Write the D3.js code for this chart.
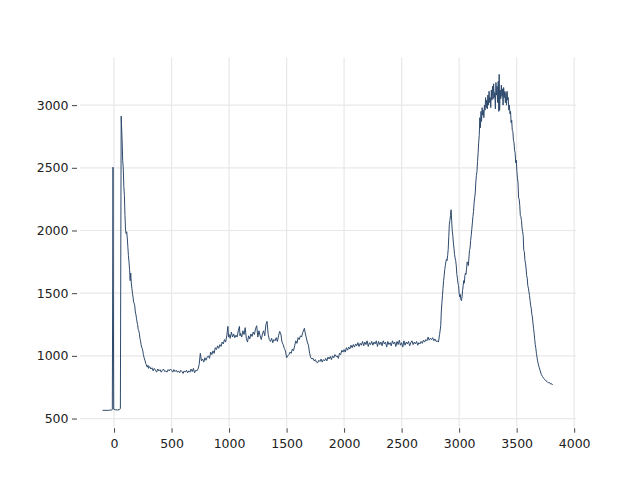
<!DOCTYPE html>
<html>
<head>
<meta charset="utf-8">
<script src="https://cdn.jsdelivr.net/npm/d3@7"></script>
<style>
  html, body { margin: 0; padding: 0; background: #fff; }
  svg { display: block; }
  text { font-family: "DejaVu Sans", sans-serif; }
</style>
</head>
<body>
<svg id="chart" width="640" height="480"></svg>
<script>
// ---- data ----
const xValues = [
  -100, -80, -60, -40, -20, -15, -9, -3, 10, 30, 50, 55, 62,
  70, 75, 80, 85, 90, 95, 100, 105, 110, 115, 120, 125, 130, 135, 140, 145, 150,
  155, 160, 165, 170, 175, 180, 185, 190, 195, 200, 205, 210, 215, 220, 225, 230,
  235, 240, 245, 250, 255, 260, 265, 270, 275, 280, 285, 290, 295, 300,
  310, 320, 330, 340, 350, 360, 370, 380, 390, 400, 410, 420, 430, 440, 450, 460,
  470, 480, 490, 500, 510, 520, 530, 540, 550, 560, 570, 580, 590, 600, 610, 620,
  630, 640, 650, 660, 670, 680, 690, 700, 710, 720, 730, 740, 750, 760, 770, 780,
  790, 800, 810, 820, 830, 840, 850, 860, 870, 880, 890, 900, 910, 920, 930, 940,
  950, 960, 970, 980, 990, 995, 1000, 1010, 1020, 1030, 1040, 1050, 1060, 1070,
  1080, 1090, 1095, 1100, 1110, 1120, 1130, 1140, 1150, 1160, 1170, 1180, 1190,
  1200, 1210, 1220, 1230, 1240, 1250, 1260, 1270, 1280, 1290, 1300, 1310, 1320,
  1330, 1340, 1350, 1360, 1370, 1380, 1390, 1400, 1410, 1420, 1430, 1440, 1450,
  1460, 1470, 1480, 1490, 1500, 1510, 1520, 1530, 1540, 1550, 1560, 1570, 1580,
  1590, 1600, 1610, 1620, 1630, 1640, 1650, 1655, 1660, 1670, 1680, 1690, 1700,
  1710, 1720, 1730, 1740, 1750, 1760, 1770, 1780, 1790, 1800, 1810, 1820, 1830,
  1840, 1850, 1860, 1870, 1880, 1890, 1900, 1910, 1920, 1930, 1940, 1950, 1960,
  1970, 1980, 1990, 2000, 2010, 2020, 2030, 2040, 2050, 2060, 2070, 2080, 2090,
  2100, 2110, 2120, 2130, 2140, 2150, 2160, 2170, 2180, 2190, 2200, 2210, 2220,
  2230, 2240, 2250, 2260, 2270, 2280, 2290, 2300, 2310, 2320, 2330, 2340, 2350,
  2360, 2370, 2380, 2390, 2400, 2410, 2420, 2430, 2440, 2450, 2460, 2470, 2480,
  2490, 2500, 2510, 2520, 2530, 2540, 2550, 2560, 2570, 2580, 2590, 2600, 2610,
  2620, 2630, 2640, 2650, 2660, 2670, 2680, 2690, 2700, 2710, 2720, 2730, 2740,
  2750, 2760, 2770, 2780, 2790, 2800, 2810, 2820, 2830, 2840, 2845, 2850, 2855,
  2860, 2865, 2870, 2875, 2880, 2885, 2890, 2895, 2900, 2905, 2910, 2915, 2920,
  2925, 2930, 2935, 2940, 2945, 2950, 2955, 2960, 2965, 2970, 2975, 2980, 2985,
  2990, 2995, 3000, 3005, 3010, 3015, 3020, 3025, 3030, 3035, 3040, 3045, 3050,
  3055, 3060, 3065, 3070, 3075, 3080, 3085, 3090, 3095, 3100, 3105, 3110, 3115,
  3120, 3125, 3130, 3135, 3140, 3145, 3150, 3155, 3160, 3165, 3170, 3175, 3180,
  3185, 3190, 3195, 3200, 3205, 3210, 3215, 3220, 3225, 3230, 3235, 3240, 3245,
  3250, 3255, 3260, 3265, 3270, 3275, 3280, 3285, 3290, 3295, 3300, 3305, 3310,
  3315, 3320, 3325, 3330, 3335, 3340, 3345, 3348, 3352, 3357, 3362, 3367, 3372,
  3377, 3382, 3387, 3392, 3397, 3402, 3407, 3412, 3417, 3422, 3427, 3432, 3437,
  3442, 3447, 3452, 3457, 3462, 3467, 3472, 3477, 3482, 3487, 3492, 3497, 3502,
  3507, 3512, 3517, 3522, 3527, 3532, 3537, 3542, 3547, 3552, 3557, 3562, 3567,
  3572, 3577, 3582, 3587, 3592, 3597, 3602, 3607, 3612, 3617, 3622, 3627, 3632,
  3637, 3642, 3647, 3652, 3657, 3662, 3667, 3672, 3677, 3682, 3687, 3692, 3697,
  3705, 3715, 3725, 3735, 3745, 3755, 3765, 3775, 3785, 3795, 3805, 3812
];
const yValues = [
  565, 566, 565, 567, 568, 572, 2505, 575, 570, 568, 572, 580, 2912,
  2720, 2560, 2500, 2350, 2280, 2120, 2000, 1975, 1990, 1940, 1870, 1800, 1750, 1690, 1600, 1660, 1580,
  1540, 1500, 1470, 1430, 1420, 1400, 1350, 1330, 1300, 1270, 1250, 1210, 1200, 1180, 1140, 1120,
  1090, 1070, 1060, 1040, 1010, 990, 975, 960, 940, 930, 915, 910, 925, 900,
  915, 895, 905, 880, 900, 885, 870, 895, 880, 890, 870, 885, 895, 875, 880, 870,
  890, 880, 895, 885, 870, 890, 875, 885, 870, 880, 865, 885, 875, 860, 880, 870,
  885, 865, 880, 870, 895, 875, 900, 865, 885, 880, 895, 930, 1020, 960, 975, 950,
  985, 965, 990, 1000, 980, 1030, 1010, 1040, 1020, 1065, 1050, 1080, 1060, 1090, 1075, 1110,
  1095, 1130, 1110, 1160, 1235, 1150, 1170, 1140, 1190, 1150, 1175, 1145, 1165, 1150,
  1200, 1235, 1160, 1180, 1150, 1200, 1170, 1225, 1140, 1110, 1160, 1135, 1175,
  1155, 1190, 1170, 1215, 1240, 1150, 1200, 1160, 1130, 1175, 1200, 1160, 1250,
  1275, 1170, 1130, 1115, 1140, 1105, 1130, 1120, 1145, 1115, 1160, 1195, 1175,
  1110, 1090, 1060, 1040, 985, 1000, 1010, 1030, 1020, 1055, 1040, 1080, 1120,
  1100, 1145, 1130, 1160, 1150, 1185, 1210, 1220, 1190, 1150, 1110, 1085, 1020,
  985, 975, 980, 960, 970, 950, 945, 965, 955, 975, 950, 970, 960,
  980, 960, 990, 975, 995, 970, 1000, 985, 1010, 995, 1000, 980, 1020,
  1010, 1045, 1030, 1050, 1030, 1065, 1045, 1070, 1055, 1085, 1065, 1090, 1070,
  1095, 1080, 1105, 1075, 1100, 1085, 1115, 1080, 1110, 1090, 1120, 1075, 1105,
  1090, 1115, 1085, 1110, 1095, 1120, 1075, 1115, 1090, 1110, 1080, 1120, 1095,
  1110, 1070, 1115, 1090, 1105, 1080, 1120, 1095, 1110, 1075, 1115, 1090, 1125,
  1085, 1105, 1070, 1120, 1085, 1110, 1095, 1115, 1080, 1105, 1120, 1090, 1110,
  1095, 1115, 1085, 1105, 1095, 1115, 1100, 1125, 1110, 1130, 1120, 1150, 1125,
  1140, 1130, 1145, 1120, 1135, 1115, 1120, 1110, 1170, 1240, 1350, 1420, 1480,
  1540, 1600, 1640, 1690, 1720, 1750, 1770, 1760, 1800, 1850, 1950, 2050, 2080,
  2120, 2165, 2080, 2000, 1960, 1900, 1860, 1810, 1780, 1760, 1720, 1650, 1620,
  1580, 1560, 1500, 1470, 1490, 1450, 1440, 1470, 1520, 1560, 1600, 1580, 1640,
  1660, 1650, 1700, 1750, 1740, 1720, 1780, 1840, 1860, 1920, 1960, 2010, 2060,
  2110, 2150, 2220, 2260, 2300, 2380, 2440, 2470, 2550, 2620, 2700, 2760, 2900,
  2820, 2950, 2870, 2980, 2920, 2960, 2900, 3000, 2960, 3060, 2980, 3040, 2970,
  3080, 3000, 3110, 3020, 3060, 2980, 3120, 3040, 3150, 3050, 3170, 3060, 3100,
  2970, 3180, 3080, 3150, 3020, 3190, 2950, 3245, 2960, 3120, 3050, 3160, 3070,
  3130, 3000, 3140, 3060, 3110, 3020, 3100, 3000, 3110, 3040, 3060, 2960, 3000,
  2930, 2950, 2860, 2880, 2800, 2790, 2720, 2700, 2640, 2620, 2540, 2560, 2470,
  2420, 2380, 2260, 2250, 2200, 2120, 2110, 2080, 2020, 1990, 1960, 1840, 1830,
  1760, 1740, 1700, 1640, 1620, 1560, 1540, 1510, 1480, 1440, 1400, 1380, 1330,
  1310, 1260, 1220, 1180, 1130, 1090, 1060, 1020, 990, 960, 940, 920, 905,
  880, 850, 835, 820, 812, 800, 795, 785, 788, 775, 778, 768
];
const xTicks = [0, 500, 1000, 1500, 2000, 2500, 3000, 3500, 4000];
const yTicks = [500, 1000, 1500, 2000, 2500, 3000];

// ---- layout ----
const plotLeft = 80, plotRight = 576, plotTop = 57.6, plotBottom = 427.2;

const svg = d3.select("#chart");
const data = xValues.map((xv, i) => [xv, yValues[i]]);

const xScale = d3.scaleLinear().domain([-296, 4016]).range([plotLeft, plotRight]);
const yScale = d3.scaleLinear().domain([431, 3379]).range([plotBottom, plotTop]);

// grid
const grid = svg.append("g");
grid.selectAll("line.vx").data(xTicks).join("line").attr("class", "vx")
  .attr("x1", d => xScale(d)).attr("x2", d => xScale(d))
  .attr("y1", plotTop).attr("y2", plotBottom)
  .attr("stroke", "#e8e8e8").attr("stroke-width", 1.2);
grid.selectAll("line.hy").data(yTicks).join("line").attr("class", "hy")
  .attr("x1", plotLeft).attr("x2", plotRight)
  .attr("y1", d => yScale(d)).attr("y2", d => yScale(d))
  .attr("stroke", "#e8e8e8").attr("stroke-width", 1.2);

// axes (detached ticks, no spines)
const xAxis = d3.axisBottom(xScale).tickValues(xTicks).tickSize(4.5).tickPadding(6.5).tickFormat(d3.format("d"));
const gx = svg.append("g").attr("transform", `translate(0,${plotBottom + 1})`).call(xAxis);
gx.select(".domain").remove();
gx.selectAll("text").attr("font-size", 12.5).attr("fill", "#222").attr("font-family", "DejaVu Sans");
gx.selectAll("line").attr("stroke", "#444");

const yAxis = d3.axisLeft(yScale).tickValues(yTicks).tickSize(5).tickPadding(3.5).tickFormat(d3.format("d"));
const gy = svg.append("g").attr("transform", `translate(${plotLeft - 3},0)`).call(yAxis);
gy.select(".domain").remove();
gy.selectAll("text").attr("font-size", 12.5).attr("fill", "#222").attr("font-family", "DejaVu Sans");
gy.selectAll("line").attr("stroke", "#444");

// line
const line = d3.line().x(d => xScale(d[0])).y(d => yScale(d[1]));
svg.append("path").datum(data)
  .attr("d", line)
  .attr("fill", "none")
  .attr("stroke", "#2e4a6d")
  .attr("stroke-width", 1)
  .attr("stroke-linejoin", "round");
</script>
</body>
</html>
